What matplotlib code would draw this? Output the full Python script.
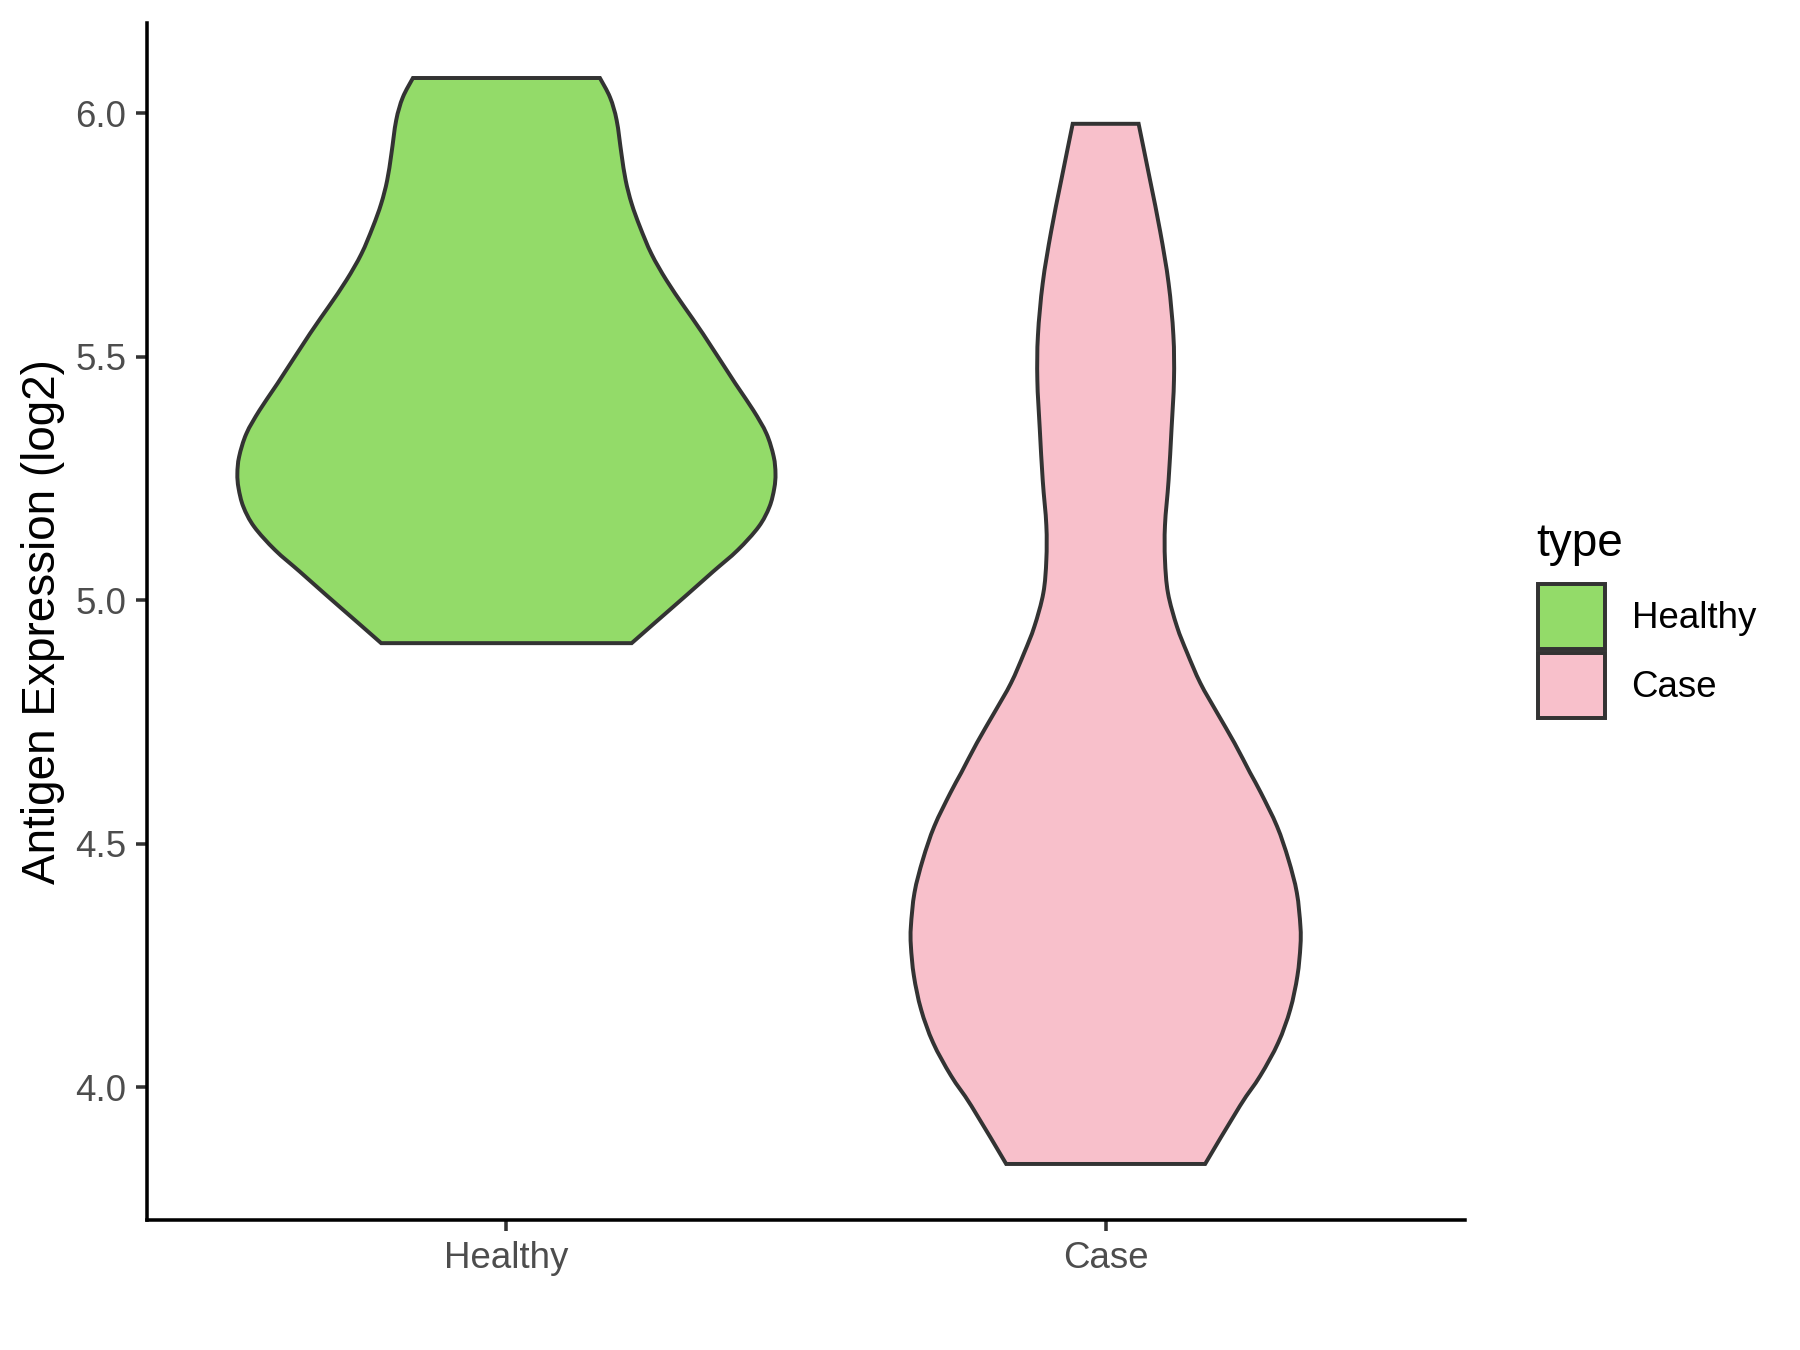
import matplotlib
matplotlib.use("Agg")
import matplotlib.pyplot as plt
from matplotlib.patches import Patch, PathPatch
from matplotlib.path import Path

plt.rcParams["font.family"] = ["Liberation Sans", "DejaVu Sans"]

# ── data ────────────────────────────────────────────────────────────────
groups = ["Healthy", "Case"]
colors = ["#93DB69", "#F8C0CB"]

# violin outline: expression level (log2) and half-width (in category units)
healthy_y = [4.912, 4.953, 5.011, 5.059, 5.103, 5.151, 5.192, 5.230, 5.260,
             5.295, 5.342, 5.390, 5.445, 5.547, 5.602, 5.657, 5.711, 5.766,
             5.814, 5.862, 5.916, 5.985, 6.032, 6.072]
healthy_hw = [0.209, 0.247, 0.301, 0.345, 0.386, 0.421, 0.439, 0.447, 0.449,
              0.446, 0.434, 0.412, 0.382, 0.328, 0.297, 0.267, 0.242, 0.223,
              0.209, 0.199, 0.192, 0.184, 0.173, 0.156]

case_y = [3.843, 3.962, 4.024, 4.092, 4.160, 4.229, 4.290, 4.331, 4.400,
          4.468, 4.536, 4.605, 4.646, 4.707, 4.769, 4.830, 4.892, 4.946,
          5.015, 5.083, 5.154, 5.246, 5.353, 5.452, 5.544, 5.651, 5.757,
          5.863, 5.978]
case_hw = [0.166, 0.224, 0.258, 0.288, 0.308, 0.320, 0.325, 0.325, 0.319,
           0.305, 0.286, 0.259, 0.241, 0.215, 0.186, 0.158, 0.136, 0.119,
           0.104, 0.099, 0.099, 0.105, 0.110, 0.114, 0.113, 0.105, 0.091,
           0.074, 0.055]

y_ticks = [4.0, 4.5, 5.0, 5.5, 6.0]
profiles = [(healthy_y, healthy_hw), (case_y, case_hw)]

EDGE = "#333333"
LW = 1.9


# ── smooth outline: Catmull-Rom through the read points, drawn as Béziers ─
def smooth_segments(pts):
    verts, codes = [], []
    n = len(pts)
    for i in range(n - 1):
        p0 = pts[max(i - 1, 0)]
        p1 = pts[i]
        p2 = pts[i + 1]
        p3 = pts[min(i + 2, n - 1)]
        c1 = (p1[0] + (p2[0] - p0[0]) / 6, p1[1] + (p2[1] - p0[1]) / 6)
        c2 = (p2[0] - (p3[0] - p1[0]) / 6, p2[1] - (p3[1] - p1[1]) / 6)
        verts += [c1, c2, p2]
        codes += [Path.CURVE4] * 3
    return verts, codes


def violin_path(pos, ys, hws):
    right = [(pos + w, y) for y, w in zip(ys, hws)]
    left = [(pos - w, y) for y, w in zip(ys, hws)][::-1]
    verts, codes = [right[0]], [Path.MOVETO]
    v, c = smooth_segments(right)
    verts += v
    codes += c
    verts.append(left[0])
    codes.append(Path.LINETO)
    v, c = smooth_segments(left)
    verts += v
    codes += c
    verts.append(right[0])
    codes.append(Path.CLOSEPOLY)
    return Path(verts, codes)


# ── figure ──────────────────────────────────────────────────────────────
fig = plt.figure(figsize=(12, 9), dpi=150)
ax = fig.add_axes([0.0816, 0.0963, 0.7324, 0.8867])

for i, (ys, hws) in enumerate(profiles):
    patch = PathPatch(violin_path(i + 1, ys, hws), facecolor=colors[i],
                      edgecolor=EDGE, linewidth=LW, joinstyle="miter")
    ax.add_patch(patch)

ax.set_xlim(0.4, 2.6)
ax.set_ylim(3.728, 6.185)
ax.set_xticks([1, 2])
ax.set_xticklabels(groups)
ax.set_yticks(y_ticks)
ax.set_yticklabels([f"{v:.1f}" for v in y_ticks])

for s in ["top", "right"]:
    ax.spines[s].set_visible(False)
for s in ["left", "bottom"]:
    ax.spines[s].set_linewidth(1.7)
    ax.spines[s].set_color("black")
    ax.spines[s].set_capstyle("projecting")

ax.tick_params(axis="both", length=5.5, width=1.7, color="#333333",
               labelsize=17.6, labelcolor="#4D4D4D", pad=4.4)
ax.set_ylabel("Antigen Expression (log2)", fontsize=22, color="black",
              labelpad=5)

# legend
fig.text(0.8533, 0.588, "type", fontsize=22, ha="left", va="baseline")
handles = [Patch(facecolor=c, edgecolor=EDGE, linewidth=LW) for c in colors]
leg = fig.legend(handles, groups, loc="upper left",
                 bbox_to_anchor=(0.8545, 0.5674), frameon=False,
                 fontsize=17.6, handlelength=1.83, handleheight=2.36,
                 handletextpad=0.72, labelspacing=0.1,
                 borderpad=0, borderaxespad=0)

fig.savefig("out.png", dpi=150)
